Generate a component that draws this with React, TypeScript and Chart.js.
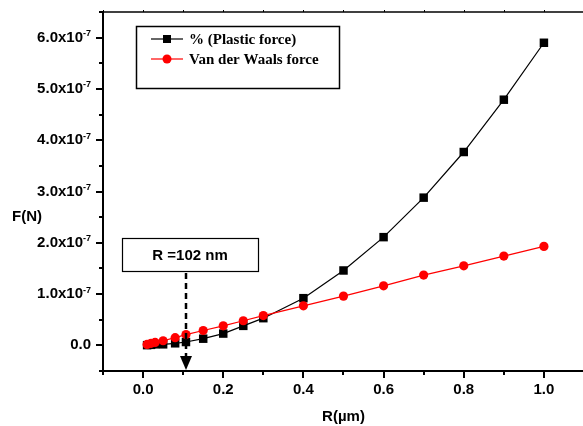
import React, { useEffect, useRef } from "react";
import { Chart, registerables } from "chart.js";

Chart.register(...registerables);

const radius: number[] = [0.01, 0.02, 0.03, 0.05, 0.08, 0.107, 0.15, 0.2, 0.25, 0.3, 0.4, 0.5, 0.6, 0.7, 0.8, 0.9, 1.0];
const plasticForce: number[] = [0.4e-9, 1.0e-9, 2.0e-9, 2.0e-9, 4.0e-9, 6.5e-9, 1.3e-8, 2.3e-8, 3.8e-8, 5.3e-8, 9.2e-8, 1.46e-7, 2.11e-7, 2.88e-7, 3.77e-7, 4.79e-7, 5.9e-7];
const vdwForce: number[] = [1.9e-9, 3.9e-9, 5.8e-9, 9.0e-9, 1.5e-8, 2.1e-8, 2.9e-8, 3.8e-8, 4.8e-8, 5.8e-8, 7.7e-8, 9.6e-8, 1.16e-7, 1.37e-7, 1.55e-7, 1.74e-7, 1.93e-7];
const seriesNames: string[] = ["% (Plastic force)", "Van der Waals force"];
const yTickMantissas: string[] = ["0.0", "1.0", "2.0", "3.0", "4.0", "5.0", "6.0"];
const yTickValues: number[] = [0, 1e-7, 2e-7, 3e-7, 4e-7, 5e-7, 6e-7];
const xTickLabels: string[] = ["0.0", "0.2", "0.4", "0.6", "0.8", "1.0"];
const annotationText = "R =102 nm";
const annotationX = 0.107;
const xTitle = "R(µm)";
const yTitle = "F(N)";

const SANS = "'Liberation Sans', Arial, sans-serif";
const SERIF = "'Liberation Serif', 'Times New Roman', serif";

const overlay = {
  id: "overlay",
  afterDraw(chart: any) {
    const ctx = chart.ctx as CanvasRenderingContext2D;
    const ca = chart.chartArea;
    const xs = chart.scales.x;
    const ys = chart.scales.y;
    ctx.save();
    ctx.strokeStyle = "#000";
    ctx.fillStyle = "#000";

    // top axis line
    ctx.lineWidth = 1.5;
    ctx.beginPath();
    ctx.moveTo(ca.left, ca.top);
    ctx.lineTo(ca.right + 2, ca.top);
    ctx.stroke();
    ctx.lineWidth = 1;
    for (let i = -1; i <= 11; i++) {
      const px = Math.round(xs.getPixelForValue(i / 10)) + 0.5;
      ctx.beginPath();
      ctx.moveTo(px, ca.top);
      ctx.lineTo(px, ca.top - 2);
      ctx.stroke();
    }

    // bottom ticks
    ctx.lineWidth = 2;
    for (let i = -1; i <= 11; i++) {
      const px = Math.round(xs.getPixelForValue(i / 10));
      const major = i >= 0 && i % 2 === 0;
      ctx.beginPath();
      ctx.moveTo(px, ca.bottom);
      ctx.lineTo(px, ca.bottom + (major ? 7 : 4));
      ctx.stroke();
    }
    // left ticks
    for (let i = -1; i <= 13; i++) {
      const py = Math.round(ys.getPixelForValue(i * 0.5e-7));
      const major = i >= 0 && i % 2 === 0;
      ctx.beginPath();
      ctx.moveTo(ca.left, py);
      ctx.lineTo(ca.left - (major ? 7 : 4), py);
      ctx.stroke();
    }

    // y tick labels
    ctx.textBaseline = "middle";
    for (let k = 0; k < yTickValues.length; k++) {
      const py = ys.getPixelForValue(yTickValues[k]);
      const rightX = ca.left - 12;
      if (yTickValues[k] === 0) {
        ctx.font = `bold 15px ${SANS}`;
        ctx.textAlign = "right";
        ctx.fillText(yTickMantissas[k], rightX, py);
      } else {
        ctx.font = `bold 9px ${SANS}`;
        const supW = ctx.measureText("-7").width;
        ctx.textAlign = "right";
        ctx.fillText("-7", rightX, py - 4);
        ctx.font = `bold 15px ${SANS}`;
        ctx.fillText(yTickMantissas[k] + "x10", rightX - supW, py);
      }
    }

    // x tick labels
    ctx.font = `bold 15px ${SANS}`;
    ctx.textAlign = "center";
    ctx.textBaseline = "middle";
    for (const lbl of xTickLabels) {
      ctx.fillText(lbl, xs.getPixelForValue(parseFloat(lbl)), ca.bottom + 19);
    }

    // axis titles
    ctx.font = `bold 15px ${SANS}`;
    ctx.fillText(xTitle, (ca.left + ca.right) / 2, ca.bottom + 46);
    ctx.textAlign = "left";
    ctx.fillText(yTitle, 12, 217);

    // legend
    const lx = 136, ly = 26, lw = 203, lh = 62;
    ctx.lineWidth = 1.5;
    ctx.strokeStyle = "#000";
    ctx.fillStyle = "#fff";
    ctx.fillRect(lx, ly, lw, lh);
    ctx.strokeRect(lx + 0.5, ly + 0.5, lw, lh);
    const colors = ["#000000", "#ff0000"];
    for (let i = 0; i < 2; i++) {
      const ry = 39 + i * 20;
      ctx.strokeStyle = colors[i];
      ctx.fillStyle = colors[i];
      ctx.lineWidth = 1.2;
      ctx.beginPath();
      ctx.moveTo(151, ry);
      ctx.lineTo(183, ry);
      ctx.stroke();
      if (i === 0) {
        ctx.fillRect(163, ry - 4, 8, 8);
      } else {
        ctx.beginPath();
        ctx.arc(167, ry, 4.5, 0, Math.PI * 2);
        ctx.fill();
      }
      ctx.fillStyle = "#000";
      ctx.font = `bold 15px ${SERIF}`;
      ctx.textAlign = "left";
      ctx.textBaseline = "middle";
      ctx.fillText(seriesNames[i], 189, ry + 1);
    }

    // annotation
    const ax = Math.round(xs.getPixelForValue(annotationX));
    const bx = 122, by = 238, bw = 136, bh = 33;
    ctx.fillStyle = "#fff";
    ctx.fillRect(bx, by, bw, bh);
    ctx.strokeStyle = "#000";
    ctx.lineWidth = 1.2;
    ctx.strokeRect(bx + 0.5, by + 0.5, bw, bh);
    ctx.fillStyle = "#000";
    ctx.font = `bold 15px ${SANS}`;
    ctx.textAlign = "center";
    ctx.textBaseline = "middle";
    ctx.fillText(annotationText, bx + bw / 2, by + bh / 2 + 1);
    ctx.lineWidth = 2.5;
    ctx.setLineDash([6, 4]);
    ctx.beginPath();
    ctx.moveTo(ax, by + bh + 2);
    ctx.lineTo(ax, 357);
    ctx.stroke();
    ctx.setLineDash([]);
    ctx.beginPath();
    ctx.moveTo(ax - 6, 356);
    ctx.lineTo(ax + 6, 356);
    ctx.lineTo(ax, 370);
    ctx.closePath();
    ctx.fill();

    ctx.restore();
  },
};

export default function App() {
  const ref = useRef<HTMLCanvasElement | null>(null);
  useEffect(() => {
    document.body.style.margin = "0";
    const canvas = ref.current!;
    const chart = new Chart(canvas, {
      type: "line",
      data: {
        datasets: [
          {
            label: seriesNames[0],
            data: radius.map((r, i) => ({ x: r, y: plasticForce[i] })),
            borderColor: "#000000",
            backgroundColor: "#000000",
            borderWidth: 1.2,
            pointStyle: "rect",
            pointRadius: 6,
            pointBorderWidth: 0,
            order: 1,
          },
          {
            label: seriesNames[1],
            data: radius.map((r, i) => ({ x: r, y: vdwForce[i] })),
            borderColor: "#ff0000",
            backgroundColor: "#ff0000",
            borderWidth: 1.2,
            pointStyle: "circle",
            pointRadius: 4.6,
            pointBorderWidth: 0,
            order: 0,
          },
        ],
      },
      options: {
        animation: false,
        responsive: false,
        devicePixelRatio: 1,
        layout: { padding: { top: 12, right: 4, left: 0, bottom: 0 } },
        plugins: { legend: { display: false }, tooltip: { enabled: false } },
        scales: {
          x: {
            type: "linear",
            min: -0.1,
            max: 1.1,
            grid: { display: false },
            border: { display: true, color: "#000", width: 2 },
            ticks: { display: false, stepSize: 0.1 },
            afterFit: (s: any) => { s.height = 55; },
          },
          y: {
            type: "linear",
            min: -0.5e-7,
            max: 6.5e-7,
            grid: { display: false },
            border: { display: true, color: "#000", width: 2 },
            ticks: { display: false, stepSize: 0.5e-7 },
            afterFit: (s: any) => { s.width = 103; },
          },
        },
      },
      plugins: [overlay],
    });
    return () => chart.destroy();
  }, []);
  return (
    <div style={{ width: 583, height: 426, overflow: "hidden", position: "relative", background: "#fff" }}>
      <canvas ref={ref} width={590} height={426} style={{ display: "block", width: 590, height: 426 }} />
    </div>
  );
}
